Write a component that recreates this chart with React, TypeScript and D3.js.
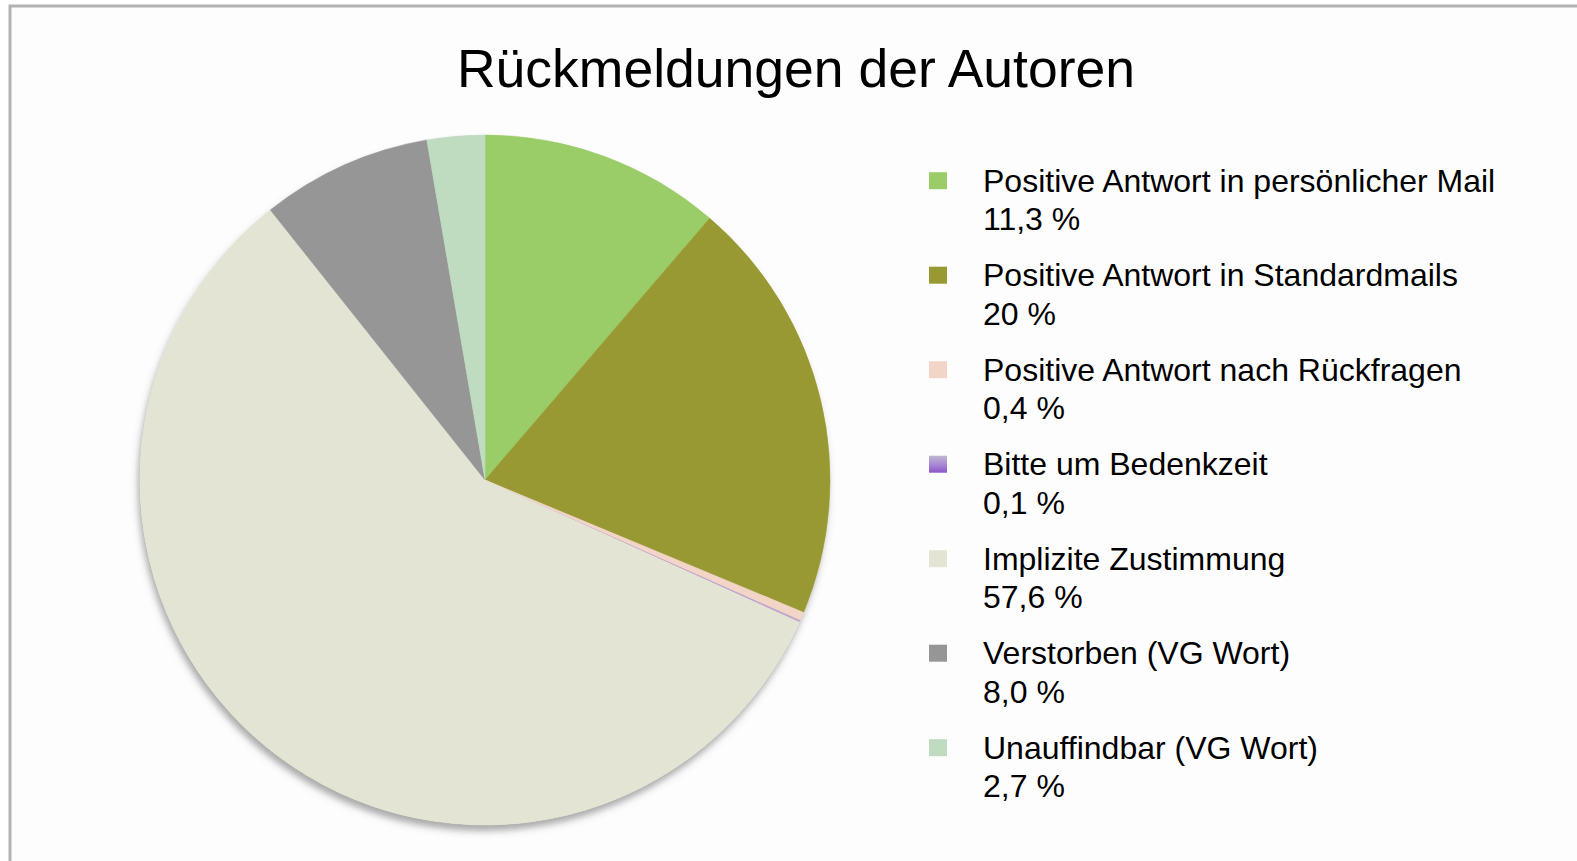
import React, { useEffect } from "react";
import * as d3 from "d3";

const categories = [
  "Positive Antwort in persönlicher Mail",
  "Positive Antwort in Standardmails",
  "Positive Antwort nach Rückfragen",
  "Bitte um Bedenkzeit",
  "Implizite Zustimmung",
  "Verstorben (VG Wort)",
  "Unauffindbar (VG Wort)",
];
const values = [11.3, 20, 0.4, 0.1, 57.6, 8.0, 2.7];
const valueLabels = ["11,3 %", "20 %", "0,4 %", "0,1 %", "57,6 %", "8,0 %", "2,7 %"];
const colors = ["#9acd68", "#999933", "#f2d5c7", "#9966cc", "#e4e4d4", "#969696", "#bfdcc0"];
const title = "Rückmeldungen der Autoren";

const W = 1577;
const H = 861;
const FONT = "'Liberation Sans', Arial, sans-serif";

export default function App() {
  useEffect(() => {
    document.body.style.margin = "0";
  }, []);

  const cx = 485;
  const cy = 480;
  const r = 345;

  const pie = d3.pie<number>().sort(null).value((d) => d);
  const arcs = pie(values);
  const arcGen = d3.arc<d3.PieArcDatum<number>>().innerRadius(0).outerRadius(r);

  const legendY = d3.scaleLinear().domain([0, categories.length - 1]).range([191.7, 758.7]);

  return (
    <svg width={W} height={H} style={{ display: "block" }}>
      <defs>
        <filter id="shadow" x="-10%" y="-10%" width="120%" height="120%">
          <feDropShadow dx="-2" dy="6" stdDeviation="3.5" floodColor="#555" floodOpacity="0.5" />
        </filter>
        <linearGradient id="purpleGrad" x1="0" y1="0" x2="0" y2="1">
          <stop offset="0" stopColor="#c0b8d0" />
          <stop offset="0.5" stopColor="#a98ad6" />
          <stop offset="1" stopColor="#8e55c8" />
        </linearGradient>
      </defs>
      <rect x={0} y={0} width={W} height={H} fill="#ffffff" />
      <rect x={10} y={6} width={W + 20} height={H + 20} fill="#fdfdfd" stroke="#b3b3b3" strokeWidth={3} />
      <text
        x={796}
        y={86.7}
        textAnchor="middle"
        fontFamily={FONT}
        fontSize={53.5}
        fill="#000"
      >
        {title}
      </text>
      <g transform={`translate(${cx},${cy})`}>
        <circle r={r} fill="#e4e4d4" filter="url(#shadow)" />
        {arcs.map((a, i) => (
          <path
            key={i}
            d={arcGen(a) || ""}
            fill={colors[i]}
            stroke={i === 3 ? "none" : colors[i]}
            strokeWidth={0.5}
            opacity={i === 3 ? 0.5 : 1}
          />
        ))}
      </g>
      <g>
        {categories.map((c, i) => {
          const by = legendY(i);
          return (
            <g key={c}>
              <rect
                x={929}
                y={by - 19.5}
                width={18}
                height={17}
                fill={i === 3 ? "url(#purpleGrad)" : colors[i]}
              />
              <text x={983} y={by} fontFamily={FONT} fontSize={32} fill="#000">
                {c}
              </text>
              <text x={983} y={by + 38.5} fontFamily={FONT} fontSize={32} fill="#000">
                {valueLabels[i]}
              </text>
            </g>
          );
        })}
      </g>
    </svg>
  );
}
